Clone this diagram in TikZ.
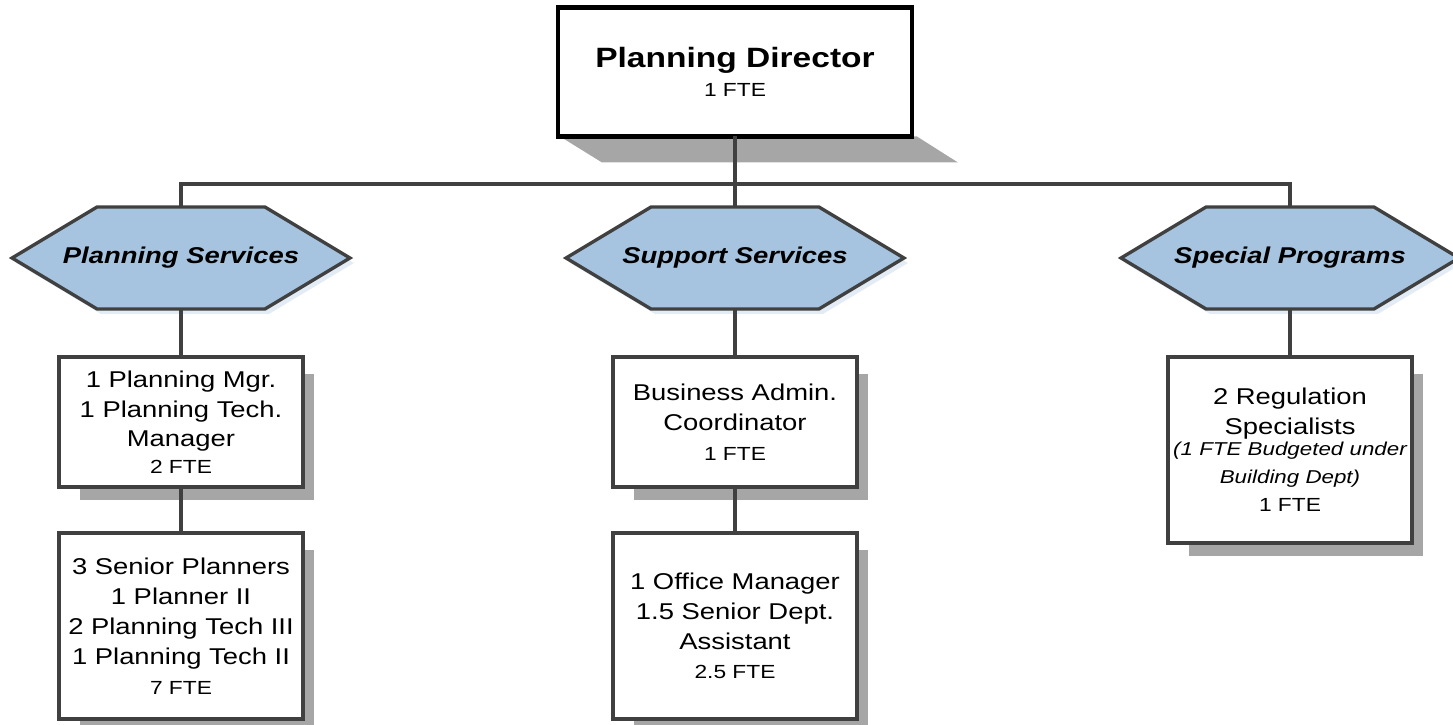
\documentclass[tikz,border=0pt]{standalone}
\usepackage{fontspec}
\setmainfont{Liberation Sans}[FakeStretch=1.2]
\usetikzlibrary{backgrounds}
\definecolor{wire}{HTML}{404040}
\definecolor{hexfill}{HTML}{A6C4DF}
\definecolor{hexglow}{HTML}{E3ECF5}
\definecolor{shadowgray}{HTML}{A6A6A6}
\newcommand{\ftesize}{\fontsize{10.8}{13}\selectfont}
\newcommand{\notesize}{\fontsize{10.6}{13}\selectfont\itshape}

\begin{document}
\begin{tikzpicture}[x=0.02cm,y=-0.02cm,
  wire/.style={draw=wire,line width=1.9pt},
  unitbox/.style={draw=wire,line width=1.9pt,fill=white,minimum width=4.88cm,align=center,inner sep=0pt,outer sep=0pt,font=\fontsize{13}{17}\selectfont},
  hexlabel/.style={minimum width=6.76cm,minimum height=2.04cm,inner sep=0pt,outer sep=0pt,font=\fontsize{13}{16}\selectfont\bfseries\itshape}]
  \useasboundingbox (0,0) rectangle (1453,724);

  % top of the chart
  \node[draw=black,line width=2.4pt,fill=white,minimum width=7.08cm,minimum height=2.58cm,align=center,inner sep=0pt,outer sep=0pt,font=\fontsize{15.9}{19}\selectfont] (director) at (735,72) {\textbf{Planning Director}\\[-2.5pt]{\ftesize 1 FTE}};

  % divisions
  \node[hexlabel] (plansvc) at (181,258) {Planning Services};
  \node[hexlabel] (suppsvc) at (735,258) {Support Services};
  \node[hexlabel] (specprog) at (1290,258) {Special Programs};

  % staff
  \node[unitbox,minimum height=2.6cm] (planmgr) at (181,422) {1 Planning Mgr.\\1 Planning Tech.\\Manager\\[-2pt]{\ftesize 2 FTE}};
  \node[unitbox,minimum height=3.72cm] (planstaff) at (181,626) {3 Senior Planners\\1 Planner II\\2 Planning Tech III\\1 Planning Tech II\\[0pt]{\ftesize 7 FTE}};
  \node[unitbox,minimum height=2.6cm] (bizadmin) at (735,422) {Business Admin.\\Coordinator\\{\ftesize 1 FTE}};
  \node[unitbox,minimum height=3.72cm] (office) at (735,626) {1 Office Manager\\1.5 Senior Dept.\\Assistant\\{\ftesize 2.5 FTE}};
  \node[unitbox,minimum height=3.72cm] (regspec) at (1290,450) {2 Regulation\\Specialists\\[-5pt]{\notesize (1 FTE Budgeted under}\\[-1pt]{\notesize Building Dept)}\\[-1pt]{\ftesize 1 FTE}};

  % connectors
  \coordinate (bus) at (735,184);
  \draw[wire] (director.south) -- (bus);
  \draw[wire] (plansvc.north) |- (bus) -| (specprog.north);
  \draw[wire] (suppsvc.north) -- (bus);
  \draw[wire] (plansvc.south) -- (planmgr.north);
  \draw[wire] (planmgr.south) -- (planstaff.north);
  \draw[wire] (suppsvc.south) -- (bizadmin.north);
  \draw[wire] (bizadmin.south) -- (office.north);
  \draw[wire] (specprog.south) -- (regspec.north);

  \begin{scope}[on background layer]
    % shadows
    \fill[shadowgray] ([shift={(2,0)}]director.south west) -- ([shift={(5,0)}]director.south east) -- ([shift={(46,26)}]director.south east) -- ([shift={(44,26)}]director.south west) -- cycle;
    \foreach \b in {planmgr,planstaff,bizadmin,office,regspec}
      \fill[shadowgray] ([shift={(21,17)}]\b.north west) rectangle ([shift={(11,13)}]\b.south east);
    % hexagons
    \foreach \h in {plansvc,suppsvc,specprog} {
      \fill[hexglow] ([shift={(4,5)}]\h.west) -- ([shift={(89,5)}]\h.north west) -- ([shift={(-81,5)}]\h.north east) -- ([shift={(4,5)}]\h.east) -- ([shift={(-81,5)}]\h.south east) -- ([shift={(89,5)}]\h.south west) -- cycle;
      \filldraw[wire,fill=hexfill] (\h.west) -- ([shift={(85,0)}]\h.north west) -- ([shift={(-85,0)}]\h.north east) -- (\h.east) -- ([shift={(-85,0)}]\h.south east) -- ([shift={(85,0)}]\h.south west) -- cycle;
    }
  \end{scope}
\end{tikzpicture}
\end{document}
